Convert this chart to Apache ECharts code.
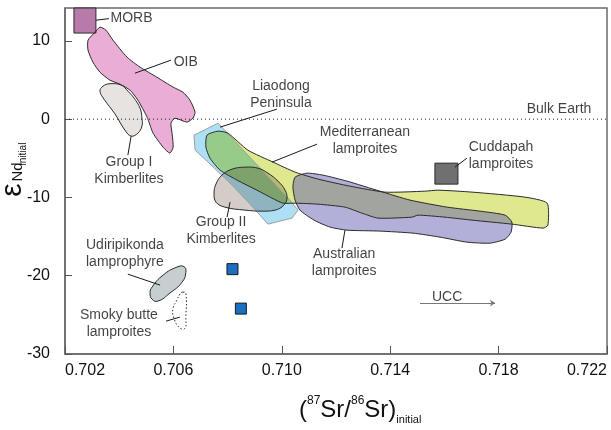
<!DOCTYPE html>
<html><head><meta charset="utf-8">
<script src="https://cdn.jsdelivr.net/npm/echarts@6/dist/echarts.min.js"></script>
<style>html,body{margin:0;padding:0;background:#fff}#c{width:611px;height:430px}</style>
</head><body><div id="c"></div>
<script>
const FONT = '"Liberation Sans", Arial, Helvetica, sans-serif';

// ---- axes ----
const xMin = 0.702, xMax = 0.722, xStep = 0.004;
const yMin = -30, yMax = 14.2, yStep = 10;

// ---- field outlines: [87Sr/86Sr, eNd] ----
const morbBox = [[0.70233, 14.2], [0.70314, 11.0]];
const oib = [[0.70329,11.75],[0.70351,11.37],[0.70377,10.09],[0.70429,7.92],[0.70477,6.64],[0.70539,5.36],[0.70599,4.09],[0.70635,3.45],[0.70661,2.43],[0.70680,0.89],[0.70672,0.13],[0.70650,-0.38],[0.70606,0.13],[0.70591,-0.51],[0.70595,-1.79],[0.70599,-3.58],[0.70587,-4.34],[0.70562,-3.58],[0.70525,-1.79],[0.70503,0.26],[0.70469,2.43],[0.70440,3.70],[0.70403,4.47],[0.70366,4.98],[0.70329,6.00],[0.70303,7.28],[0.70285,8.81],[0.70285,10.09],[0.70311,11.11]];
const groupI = [[0.70366,4.53],[0.70408,4.34],[0.70432,3.58],[0.70455,2.68],[0.70477,1.40],[0.70484,0.13],[0.70484,-0.89],[0.70469,-1.79],[0.70444,-2.17],[0.70421,-1.40],[0.70385,0.64],[0.70344,2.55],[0.70329,3.58],[0.70340,4.21]];
const liaodong = [[0.70676,-2.04],[0.70765,-0.51],[0.71030,-10.34],[0.71060,-11.62],[0.71038,-12.64],[0.70949,-13.41],[0.70883,-10.86],[0.70809,-8.17],[0.70728,-5.49],[0.70680,-3.96]];
const mediterranean = [[0.70724,-2.04],[0.70765,-1.53],[0.70801,-1.79],[0.70875,-3.96],[0.70968,-5.49],[0.71049,-6.77],[0.71134,-7.66],[0.71252,-8.56],[0.71381,-9.32],[0.71528,-9.20],[0.71576,-9.07],[0.71702,-9.32],[0.71897,-9.96],[0.71979,-10.73],[0.71982,-13.54],[0.71964,-13.92],[0.71849,-13.41],[0.71702,-12.90],[0.71602,-12.52],[0.71503,-12.26],[0.71480,-12.52],[0.71355,-12.64],[0.71296,-12.01],[0.71233,-11.24],[0.71134,-10.86],[0.71049,-10.73],[0.71004,-10.73],[0.70964,-10.09],[0.70908,-9.07],[0.70835,-7.79],[0.70772,-6.51],[0.70735,-4.98],[0.70720,-3.58]];
const groupII = [[0.70757,-8.30],[0.70779,-7.15],[0.70816,-6.39],[0.70864,-6.13],[0.70912,-6.26],[0.70949,-6.90],[0.70986,-7.92],[0.71012,-9.07],[0.71019,-10.22],[0.71004,-11.11],[0.70975,-11.62],[0.70927,-11.75],[0.70864,-11.62],[0.70790,-11.24],[0.70757,-10.60],[0.70750,-9.45]];
const australian = [[0.71049,-7.41],[0.71093,-6.90],[0.71152,-7.15],[0.71241,-7.92],[0.71362,-9.20],[0.71473,-10.34],[0.71610,-11.24],[0.71731,-11.75],[0.71824,-12.26],[0.71849,-13.15],[0.71846,-14.43],[0.71824,-15.33],[0.71768,-15.84],[0.71683,-15.71],[0.71584,-15.07],[0.71484,-14.56],[0.71362,-14.30],[0.71241,-14.18],[0.71178,-13.79],[0.71119,-12.90],[0.71067,-11.62],[0.71049,-10.34],[0.71041,-8.68]];
const udiripikonda = [[0.70521,-21.46],[0.70562,-19.92],[0.70613,-18.90],[0.70639,-18.84],[0.70646,-19.54],[0.70632,-20.82],[0.70587,-22.22],[0.70543,-23.24],[0.70521,-22.99],[0.70514,-22.22]];
const smokyButte = [[0.70635,-22.09],[0.70646,-22.29],[0.70646,-25.29],[0.70643,-26.69],[0.70624,-26.69],[0.70602,-25.42],[0.70599,-24.14],[0.70613,-23.12],[0.70624,-22.35]];
const cuddapahBox = [[0.71565,-5.62],[0.71650,-8.30]];
const sampleSr = [0.70818, 0.70849];
const sampleNd = [-19.16, -24.20];

// ---- annotations ----
const labelTexts = ['MORB','OIB','Group I\nKimberlites','Liaodong\nPeninsula','Mediterranean\nlamproites','Cuddapah\nlamproites','Group II\nKimberlites','Australian\nlamproites','Udiripikonda\nlamprophyre','Smoky butte\nlamproites','Bulk Earth','UCC'];
const labelSr = [0.70366,0.70599,0.70436,0.70997,0.71307,0.71809,0.70776,0.71230,0.70421,0.70399,0.72023,0.71610];
const labelNd = [12.90,7.32,-6.64,3.07,-2.75,-4.60,-14.30,-18.33,-17.24,-26.18,1.28,-22.73];
const leaders = [
  [[0.70314,12.64],[0.70362,12.84]],
  [[0.70458,5.87],[0.70591,7.54]],
  [[0.70444,-2.17],[0.70432,-4.60]],
  [[0.70772,-1.02],[0.70982,1.28]],
  [[0.70964,-5.49],[0.71130,-3.19]],
  [[0.71639,-6.13],[0.71683,-4.98]],
  [[0.70809,-10.60],[0.70798,-12.52]],
  [[0.71233,-14.18],[0.71222,-16.48]],
  [[0.70432,-19.80],[0.70551,-21.20]],
  [[0.70573,-25.80],[0.70624,-25.29]]
];
const uccArrow = [[0.71510,-23.50],[0.71787,-23.50]];
const bulkEarth = [[xMin,0],[xMax,0]];

function box(b){ return [[b[0][0],b[0][1]],[b[1][0],b[0][1]],[b[1][0],b[1][1]],[b[0][0],b[1][1]]]; }

const MED_FILL = '#dfe78f', G2_FILL = '#d3ccc7';
const shapes = [
  {pts: groupI, fill:'#e6e3e0', smooth:0.4},
  {pts: oib, fill:'#eaaed6', smooth:0.2},
  {pts: box(morbBox), fill:'#b87aa8', smooth:0},
  {pts: liaodong, fill:'#ade0f5', smooth:0, stroke:'#a0a0a0'},
  {pts: mediterranean, fill:MED_FILL, smooth:0.2, blend:'multiply'},
  {pts: groupII, fill:G2_FILL, smooth:0.4, blend:'multiply'},
  {pts: australian, fill:'rgba(101,97,178,0.5)', smooth:0.2},
  {pts: udiripikonda, fill:'#c6cfcf', smooth:0.5},
  {pts: smokyButte, fill:'#ffffff', smooth:0.5, dash:[1.5,2]},
  {pts: box(cuddapahBox), fill:'#707070', smooth:0}
];
const shapeData = shapes.map((s,i)=>[s.pts[0][0], s.pts[0][1], i]);

function renderFill(params, api){
  const s = shapes[api.value(2)];
  return {type:'polygon', shape:{points:s.pts.map(p=>api.coord(p)), smooth:s.smooth},
    style:{fill:s.fill, stroke:null, blend:s.blend||'source-over'}};
}
function renderStroke(params, api){
  const s = shapes[api.value(2)];
  return {type:'polygon', shape:{points:s.pts.map(p=>api.coord(p)), smooth:s.smooth},
    style:{fill:null, stroke:s.stroke||'#2b2b2b', lineWidth:1, lineDash:s.dash||null}};
}

const labelData = labelTexts.map((t,i)=>{
  const left = (i===0||i===1);
  return {value:[labelSr[i], labelNd[i]], name:t,
    label:{show:true, formatter:t, position: left?'right':'inside', distance:0, align: left?'left':'center'}};
});

const chart = echarts.init(document.getElementById('c'), null, {renderer:'canvas'});
chart.setOption({
  backgroundColor:'#ffffff',
  animation:false,
  textStyle:{fontFamily:FONT},
  grid:{left:65, right:4, top:8, bottom:76, show:true, borderColor:'#6a6a6a', borderWidth:1.5, containLabel:false},
  xAxis:{type:'value', min:xMin, max:xMax, interval:xStep,
    axisLine:{show:true, onZero:false, lineStyle:{color:'#6a6a6a', width:1.5}},
    axisTick:{show:true, inside:true, length:8, lineStyle:{color:'#555', width:1}},
    axisLabel:{fontSize:16, color:'#111', fontFamily:FONT, margin:9, formatter:v=>v.toFixed(3), alignMinLabel:'left', alignMaxLabel:'right'},
    splitLine:{show:false}},
  yAxis:{type:'value', min:yMin, max:yMax, interval:yStep,
    axisLine:{show:true, onZero:false, lineStyle:{color:'#6a6a6a', width:1.5}},
    axisTick:{show:true, inside:true, length:7, lineStyle:{color:'#555', width:1}},
    axisLabel:{fontSize:16, color:'#111', fontFamily:FONT, margin:15, showMaxLabel:false,
      formatter:v=>(Math.abs(v/10-Math.round(v/10))<1e-6 ? String(Math.round(v)) : '')},
    splitLine:{show:false}},
  series:[
    {type:'line', data:bulkEarth, symbol:'none', silent:true,
      lineStyle:{color:'#222', width:1, type:[1,3]}},
    {type:'custom', renderItem:renderFill, data:shapeData, encode:{x:0,y:1}, silent:true},
    {type:'custom', renderItem:renderStroke, data:shapeData, encode:{x:0,y:1}, silent:true},
    {type:'scatter', data:sampleSr.map((x,i)=>[x, sampleNd[i]]), symbol:'rect', symbolSize:11, silent:true,
      itemStyle:{color:'#1a6fc2', borderColor:'#1a1a1a', borderWidth:1, opacity:1}},
    {type:'lines', coordinateSystem:'cartesian2d', silent:true,
      data:leaders.map(c=>({coords:c})), lineStyle:{color:'#1a1a1a', width:1, opacity:1}},
    {type:'lines', coordinateSystem:'cartesian2d', silent:true, symbol:['none','arrow'], symbolSize:5,
      data:[{coords:uccArrow}], lineStyle:{color:'#777', width:1, opacity:1}},
    {type:'scatter', data:labelData, symbolSize:1, silent:true,
      itemStyle:{color:'rgba(0,0,0,0)'},
      label:{show:true, fontSize:14, color:'#111', fontFamily:FONT, lineHeight:17}}
  ],
  graphic:[
    {type:'text', x:12.3, y:190, rotation:Math.PI/2, style:{text:'ε', font:'30px '+FONT, fill:'#111', align:'center', verticalAlign:'middle'}},
    {type:'text', x:17.5, y:172, rotation:Math.PI/2, style:{text:'Nd', font:'15px '+FONT, fill:'#111', align:'center', verticalAlign:'middle'}},
    {type:'text', x:23.5, y:154, rotation:Math.PI/2, style:{text:'initial', font:'10px '+FONT, fill:'#111', align:'center', verticalAlign:'middle'}},
    {type:'text', x:299, y:410, style:{text:'{m|(}{s|87}{m|Sr/}{s|86}{m|Sr)}{b|initial}', align:'left', verticalAlign:'middle',
      rich:{m:{fontSize:24, fontFamily:FONT, lineHeight:30, verticalAlign:'middle', fill:'#111', color:'#111'},
            s:{fontSize:12, fontFamily:FONT, lineHeight:12, verticalAlign:'top', fill:'#111', color:'#111'},
            b:{fontSize:11, fontFamily:FONT, lineHeight:11, verticalAlign:'bottom', fill:'#111', color:'#111'}}}}
  ]
});

// apply multiply blending to the overlapping lamproite / kimberlite fields
(function applyBlend(){
  const zr = chart.getZr();
  const mul = new Set([MED_FILL, G2_FILL]);
  zr.storage.getDisplayList(true).forEach(el=>{
    if (el.style && mul.has(el.style.fill)) { el.style.blend = 'multiply'; el.markRedraw && el.markRedraw(); }
  });
  zr.refreshImmediately();
})();
</script></body></html>
